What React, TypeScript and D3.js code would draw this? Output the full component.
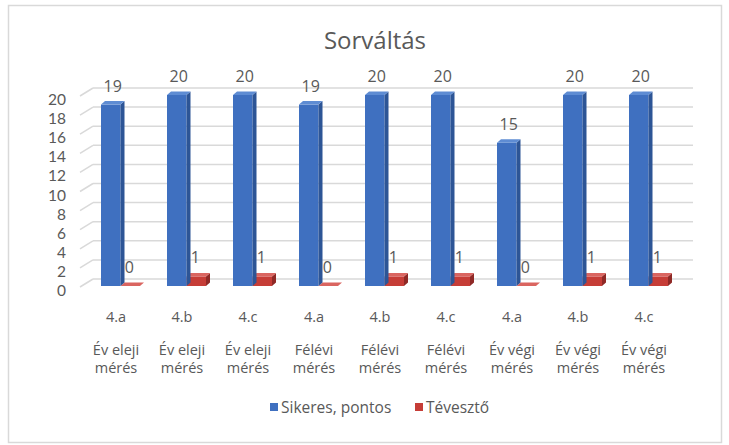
import React from "react";
import * as d3 from "d3";

const classes = ["4.a", "4.b", "4.c", "4.a", "4.b", "4.c", "4.a", "4.b", "4.c"];
const periods = [
  "Év eleji", "Év eleji", "Év eleji",
  "Félévi", "Félévi", "Félévi",
  "Év végi", "Év végi", "Év végi",
];
const sikeres = [19, 20, 20, 19, 20, 20, 15, 20, 20];
const teveszto = [0, 1, 1, 0, 1, 1, 0, 1, 1];
const yTicks = [0, 2, 4, 6, 8, 10, 12, 14, 16, 18, 20];
const seriesNames = ["Sikeres, pontos", "Tévesztő"];
const title = "Sorváltás";

const W = 729;
const H = 445;
const FONT = "'Open Sans', sans-serif";
const TICKFONT = "Lato, 'Open Sans', sans-serif";
const TXT = "#595959";

const BLUE = { front: "#3F70C0", side: "#2D5596", top: "#5E8CD3" };
const RED = { front: "#C63D37", side: "#8F2926", top: "#DA6560" };

export default function App() {
  const idx = classes.map((_, i) => String(i));
  const x = d3.scaleBand<string>().domain(idx).range([82, 676]).padding(0);
  const y = d3.scaleLinear().domain([0, 20]).range([286, 95]);

  const wallDx = 13;
  const wallDy = -7;
  const bdx = 4;
  const bdy = -3.5;
  const barW = 19.5;
  const barOffset = 19;

  const bar3d = (x0: number, v: number, c: { front: string; side: string; top: string }, key: string) => {
    const y0 = y(0);
    const y1 = y(v);
    const x1 = x0 + barW;
    return (
      <g key={key}>
        <rect x={x0} y={y1} width={barW} height={y0 - y1} fill={c.front} />
        <path d={`M${x1},${y1} L${x1 + bdx},${y1 + bdy} L${x1 + bdx},${y0 + bdy} L${x1},${y0} Z`} fill={c.side} />
        <path d={`M${x0},${y1} L${x0 + bdx},${y1 + bdy} L${x1 + bdx},${y1 + bdy} L${x1},${y1} Z`} fill={c.top} />
      </g>
    );
  };

  return (
    <svg width={W} height={H} style={{ position: "absolute", left: 0, top: 0 }}>
      <rect x={0} y={0} width={W} height={H} fill="#ffffff" />
      <rect x={8.5} y={5.5} width={713} height={437} fill="#ffffff" stroke="#d9d9d9" strokeWidth={1.5} />
      <text x={375} y={49} textAnchor="middle" fontFamily={FONT} fontSize={24} fill={TXT}>{title}</text>

      {/* gridlines */}
      {yTicks.map((t) => (
        <g key={"g" + t}>
          <line x1={82 + wallDx - 2} x2={693} y1={y(t) + wallDy} y2={y(t) + wallDy} stroke="#d9d9d9" strokeWidth={1.5} />
          <line x1={80} x2={82 + wallDx - 2} y1={y(t) + 1} y2={y(t) + wallDy} stroke="#d9d9d9" strokeWidth={1.5} />
        </g>
      ))}

      {/* y tick labels */}
      {yTicks.map((t) => (
        <text key={"yt" + t} x={66} y={y(t) + 10} textAnchor="end" fontFamily={TICKFONT} fontSize={15.5} fill={TXT}>{t}</text>
      ))}

      {/* value labels for red (drawn before bars so blue bars overlap) */}
      {teveszto.map((v, i) => (
        <text key={"rl" + i} x={(x(String(i)) as number) + barOffset + barW + barW / 2 - 1} y={y(v) - 13}
          textAnchor="middle" fontFamily={FONT} fontSize={16} fill={TXT}>{v}</text>
      ))}

      {/* bars */}
      {sikeres.map((v, i) => {
        const bx = (x(String(i)) as number) + barOffset;
        return (
          <g key={"b" + i}>
            {bar3d(bx + barW, teveszto[i], RED, "r")}
            {bar3d(bx, v, BLUE, "bl")}
          </g>
        );
      })}

      {/* blue value labels */}
      {sikeres.map((v, i) => (
        <text key={"bl" + i} x={(x(String(i)) as number) + barOffset + barW / 2 + 2} y={y(v) - 13}
          textAnchor="middle" fontFamily={FONT} fontSize={16} fill={TXT}>{v}</text>
      ))}

      {/* category labels */}
      {classes.map((c, i) => {
        const cx = (x(String(i)) as number) + x.bandwidth() / 2 + 1;
        return (
          <g key={"c" + i}>
            <text x={cx} y={322} textAnchor="middle" fontFamily={FONT} fontSize={14.5} fill={TXT}>{c}</text>
            <text x={cx} y={355} textAnchor="middle" fontFamily={FONT} fontSize={14.5} fill={TXT}>{periods[i]}</text>
            <text x={cx} y={373} textAnchor="middle" fontFamily={FONT} fontSize={14.5} fill={TXT}>mérés</text>
          </g>
        );
      })}

      {/* legend */}
      <rect x={270} y={403} width={8} height={8} fill={BLUE.front} />
      <text x={281} y={413} fontFamily={FONT} fontSize={15.5} fill={TXT}>{seriesNames[0]}</text>
      <rect x={415} y={403} width={8} height={8} fill={RED.front} />
      <text x={426} y={413} fontFamily={FONT} fontSize={15.5} fill={TXT}>{seriesNames[1]}</text>
    </svg>
  );
}
